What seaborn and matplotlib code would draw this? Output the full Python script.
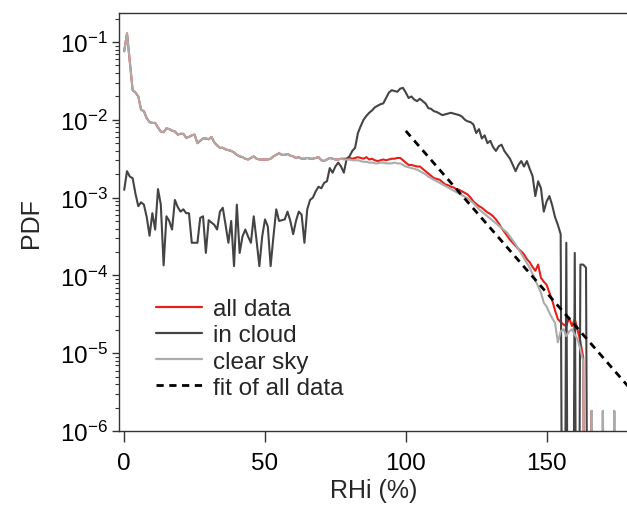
import numpy as np
import pandas as pd
import matplotlib
matplotlib.use("Agg")
import matplotlib.pyplot as plt
import matplotlib.ticker as mticker
from matplotlib.lines import Line2D
import seaborn as sns

# ---------------- data (log10 of PDF per 1 % RHi bin; None = empty bin) ----------------
rhi = list(range(0, 179))

all_data_log = [
    -1.12, -0.89, -1.25, -1.62, -1.65, -1.70, -1.87, -1.89, -1.98, -2.03,
    -2.04, -2.04, -2.10, -2.15, -2.16, -2.11, -2.12, -2.14, -2.15, -2.19,
    -2.18, -2.18, -2.23, -2.22, -2.20, -2.19, -2.30, -2.27, -2.24, -2.24,
    -2.25, -2.22, -2.29, -2.33, -2.36, -2.36, -2.38, -2.39, -2.40, -2.42,
    -2.45, -2.47, -2.48, -2.50, -2.51, -2.49, -2.47, -2.50, -2.51, -2.51,
    -2.51, -2.51, -2.50, -2.47, -2.45, -2.43, -2.45, -2.45, -2.44, -2.46,
    -2.47, -2.49, -2.48, -2.50, -2.50, -2.49, -2.50, -2.50, -2.49, -2.48,
    -2.52, -2.53, -2.51, -2.49, -2.50, -2.51, -2.51, -2.50, -2.50, -2.50,
    -2.49, -2.50, -2.49, -2.48, -2.49, -2.50, -2.48, -2.51, -2.50, -2.52,
    -2.53, -2.52, -2.51, -2.52, -2.51, -2.50, -2.50, -2.49, -2.49, -2.52,
    -2.55, -2.58, -2.58, -2.59, -2.60, -2.60, -2.63, -2.66, -2.69, -2.72,
    -2.75, -2.76, -2.77, -2.80, -2.83, -2.84, -2.86, -2.87, -2.89, -2.90,
    -2.92, -2.94, -2.96, -3.00, -3.05, -3.08, -3.11, -3.13, -3.16, -3.19,
    -3.21, -3.24, -3.28, -3.33, -3.39, -3.44, -3.49, -3.54, -3.58, -3.62,
    -3.66, -3.69, -3.73, -3.79, -3.83, -3.89, -3.94, -3.86, -4.03, -4.08,
    -4.12, -4.22, -4.32, -4.45, -4.56, -4.60, -4.63, -4.65, -4.54, -4.65,
    -4.56, -4.70, -4.85, -5.05, None, None, -5.74, None, None, None,
    -5.74, None, None, None, -5.74, None, None, None, None,
]

in_cloud_log = [
    -2.90, -2.66, -2.73, -2.75, -2.95, -3.11, -3.06, -3.09, -3.25, -3.49,
    -3.20, -3.41, -2.89, -3.09, -3.87, -3.24, -3.30, -3.41, -3.03, -3.12,
    -3.18, -3.15, -3.20, -3.20, -3.58, -3.58, -3.58, -3.26, -3.24, -3.71,
    -3.29, -3.32, -3.35, -3.41, -3.18, -3.13, -3.35, -3.58, -3.30, -3.88,
    -3.09, -3.71, -3.50, -3.41, -3.50, -3.58, -3.24, -3.55, -3.88, -3.50,
    -3.28, -3.37, -3.88, -3.50, -3.15, -3.30, -3.29, -3.28, -3.18, -3.30,
    -3.47, -3.30, -3.18, -3.22, -3.58, -3.15, -3.03, -3.00, -2.92, -2.86,
    -2.88, -2.81, -2.79, -2.62, -2.68, -2.60, -2.55, -2.60, -2.68, -2.50,
    -2.47, -2.40, -2.36, -2.17, -2.08, -2.00, -1.95, -1.91, -1.88, -1.84,
    -1.82, -1.80, -1.79, -1.72, -1.65, -1.62, -1.63, -1.64, -1.60, -1.59,
    -1.65, -1.72, -1.70, -1.74, -1.76, -1.73, -1.76, -1.79, -1.85, -1.86,
    -1.89, -1.90, -1.92, -1.94, -1.93, -1.92, -1.91, -1.92, -1.93, -1.94,
    -1.96, -2.00, -2.02, -2.03, -2.06, -2.17, -2.12, -2.24, -2.20, -2.30,
    -2.27, -2.35, -2.40, -2.34, -2.32, -2.40, -2.45, -2.50, -2.58, -2.66,
    -2.58, -2.53, -2.60, -2.53, -2.63, -2.72, -2.98, -2.79, -2.88, -3.18,
    -3.05, -2.98, -3.10, -3.25, -3.35, -3.47, None, -3.58, None, None,
    -3.71, None, -3.86, -3.86, -3.90, None, None, None, None, None,
    None, None, None, None, None, None, None, None, None,
]

clear_sky_log = all_data_log[:78] + [
    -2.51, -2.51,
    -2.51, -2.52, -2.52, -2.52, -2.53, -2.54, -2.54, -2.55, -2.55, -2.56,
    -2.56, -2.55, -2.55, -2.56, -2.56, -2.56, -2.55, -2.56, -2.56, -2.58,
    -2.60, -2.61, -2.62, -2.63, -2.64, -2.66, -2.68, -2.70, -2.73, -2.75,
    -2.77, -2.79, -2.81, -2.83, -2.85, -2.87, -2.89, -2.91, -2.93, -2.95,
    -2.97, -2.99, -3.01, -3.04, -3.07, -3.11, -3.15, -3.18, -3.21, -3.24,
    -3.27, -3.30, -3.33, -3.36, -3.39, -3.42, -3.45, -3.50, -3.55, -3.60,
    -3.66, -3.72, -3.78, -3.84, -3.90, -3.98, -4.06, -4.14, -4.22, -4.35,
    -4.40, -4.48, -4.55, -4.61, -4.86, -4.72, -4.69, -4.78, -4.72, -4.69,
    -4.76, -4.82, -4.95, -5.10, None, None, -5.74, None, None, None,
    -5.74, None, None, None, -5.74, None, None, None, None,
]

# exponential fit of all data (end points of the fitted line)
fit_rhi = [100, 180]
fit_pdf = [7.2e-3, 3.4e-6]

series_names = ["all data", "in cloud", "clear sky"]
series_colors = ["#e32119", "#444444", "#ababab"]

# ---------------- build table ----------------
FLOOR = 1e-12  # empty bins are drawn down to the bottom of the log axis
def to_pdf(lst):
    return [FLOOR if v is None else 10.0 ** v for v in lst]

frames = []
for name, lst in zip(series_names, [all_data_log, in_cloud_log, clear_sky_log]):
    frames.append(pd.DataFrame({"RHi": rhi, "PDF": to_pdf(lst), "series": name}))
df = pd.concat(frames, ignore_index=True)
fit_df = pd.DataFrame({"RHi": fit_rhi, "PDF": fit_pdf})

# ---------------- plot ----------------
sns.set_style("ticks")
plt.rcParams["font.family"] = ["Liberation Sans", "DejaVu Sans"]
plt.rcParams["mathtext.fontset"] = "custom"
plt.rcParams["mathtext.rm"] = "Liberation Sans"
plt.rcParams["mathtext.it"] = "Liberation Sans"
plt.rcParams["mathtext.bf"] = "Liberation Sans"

fig = plt.figure(figsize=(6.27, 5.06), dpi=100)
ax = fig.add_axes([0.190, 0.146, 0.812, 0.826])
ax.set_yscale("log")

sns.lineplot(data=df, x="RHi", y="PDF", hue="series", hue_order=series_names,
             palette=dict(zip(series_names, series_colors)), linewidth=1.5,
             ax=ax, legend=False, estimator=None, sort=False)
sns.lineplot(data=fit_df, x="RHi", y="PDF", color="black", linewidth=2.0,
             ax=ax, legend=False)
ax.lines[-1].set_dashes([2.6, 2.0])

ax.set_xlim(-1.8, 179)
ax.set_ylim(1e-6, 10 ** -0.63)

ax.set_xticks([0, 50, 100, 150])
ax.yaxis.set_major_locator(mticker.LogLocator(base=10, numticks=10))
ax.yaxis.set_minor_locator(mticker.LogLocator(base=10, subs=np.arange(2, 10), numticks=20))
ax.yaxis.set_minor_formatter(mticker.NullFormatter())

ax.tick_params(axis="y", which="major", direction="out", length=5, width=1.0,
               labelsize=17.5, color="#333333", labelcolor="black", pad=3)
ax.tick_params(axis="x", which="major", direction="out", length=8, width=1.0,
               labelsize=17.5, color="#333333", labelcolor="black", pad=7)
ax.tick_params(axis="y", which="minor", direction="out", length=3, width=0.8, color="#333333")
ax.tick_params(axis="x", which="minor", length=0)

for side in ["left", "bottom", "top"]:
    ax.spines[side].set_linewidth(1.0)
    ax.spines[side].set_color("#333333")
ax.spines["right"].set_visible(False)

ax.set_xlabel("RHi (%)", fontsize=18, labelpad=3)
ax.set_ylabel("PDF", fontsize=18, labelpad=12)

handles = [Line2D([], [], color=c, linewidth=1.6) for c in series_colors]
handles.append(Line2D([], [], color="black", linewidth=2.0, dashes=[2.6, 2.0]))
labels = series_names + ["fit of all data"]
ax.legend(handles, labels, loc="upper left", bbox_to_anchor=(0.072, 0.318),
          frameon=False, fontsize=17.5, handlelength=1.9, handletextpad=0.45,
          labelspacing=0.17, borderpad=0, borderaxespad=0)

fig.savefig("out.png", dpi=100)
